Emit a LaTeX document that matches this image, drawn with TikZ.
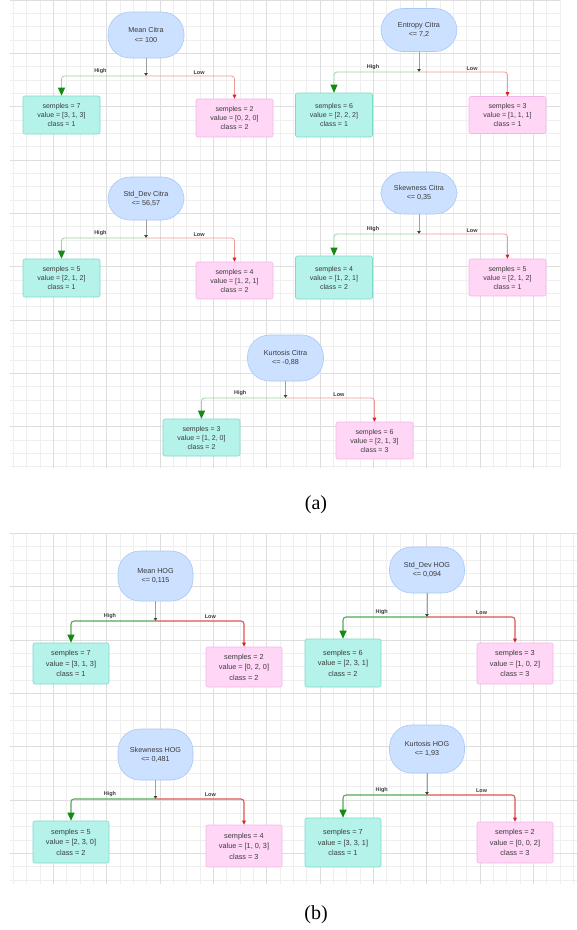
\documentclass[tikz,border=0pt]{standalone}
\usepackage{fontspec}
\setmainfont{Liberation Serif}
\newfontfamily\arialfont{Liberation Sans}
\usetikzlibrary{arrows.meta}

\definecolor{rootfill}{HTML}{CCE0FF}
\definecolor{rootline}{HTML}{A9C9F5}
\definecolor{leaffill}{HTML}{B5F3EA}
\definecolor{leafline}{HTML}{7CDBC9}
\definecolor{pinkfill}{HTML}{FFD6F5}
\definecolor{pinkline}{HTML}{F5B6E6}
\definecolor{textgrey}{HTML}{3A3A3A}
\definecolor{stemgrey}{HTML}{A0A0A0}
\definecolor{gridminor}{HTML}{EFEFEF}
\definecolor{gridmajor}{HTML}{DEDEDE}
\definecolor{greenlight}{HTML}{9AD49A}
\definecolor{redlight}{HTML}{F29A9A}
\definecolor{greendark}{HTML}{55A855}
\definecolor{reddark}{HTML}{DB5555}
\definecolor{greentip}{HTML}{138A13}
\definecolor{redtip}{HTML}{E02020}

\tikzset{
  rootnode/.style={draw=rootline, fill=rootfill, line width=0.6pt, rounded corners=22pt,
    minimum width=76pt, minimum height=46pt, align=center, text=textgrey,
    font=\arialfont\fontsize{7.2}{9.3}\selectfont},
  leafnode/.style={draw=leafline, fill=leaffill, line width=0.6pt, rounded corners=2pt,
    minimum width=77pt, minimum height=38pt, align=center, text=textgrey,
    font=\arialfont\fontsize{7}{9}\selectfont},
  pinknode/.style={leafnode, draw=pinkline, fill=pinkfill},
  bigleaf/.style={font=\arialfont\fontsize{7.3}{10.5}\selectfont},
  stemline/.style={draw=stemgrey, line width=1pt, -{Triangle[width=3.4pt,length=3pt,color=black!75]}},
  highline/.style={draw=greenlight, line width=0.8pt, rounded corners=3pt,
    -{Triangle[width=7pt,length=8pt,color=greentip]}},
  lowline/.style={draw=redlight, line width=0.8pt, rounded corners=3pt,
    -{Triangle[width=3.6pt,length=4pt,color=redtip]}},
  highdark/.style={highline, draw=greendark, line width=1.1pt},
  lowdark/.style={lowline, draw=reddark, line width=1.1pt},
  branchlabel/.style={font=\arialfont\bfseries\fontsize{5.5}{6}\selectfont, text=textgrey,
    above=0.5pt, inner sep=1pt},
  caption/.style={font=\fontsize{20}{24}\selectfont}
}

\begin{document}
\begin{tikzpicture}[x=1pt, y=-1pt]
    \useasboundingbox (0,0) rectangle (577,930);

    % 背景網格
    \draw[gridminor, step=13.33pt] (10,0) grid (560,468);
    \draw[gridmajor, step=53.33pt] (10,0) grid (560,468);
    \draw[gridminor, step=13.33pt] (10,533) grid (577,884);
    \draw[gridmajor, step=53.33pt] (10,533) grid (577,884);

    % (a) 定義節點
    \node[rootnode] (r1) at (146,35) {Mean Citra\\<= 100};
    \node[leafnode] (l1) at (61.5,115) {semples = 7\\value = [3, 1, 3]\\class = 1};
    \node[pinknode] (p1) at (234.5,118) {semples = 2\\value = [0, 2, 0]\\class = 2};
    \coordinate (j1) at (146,76);

    \node[rootnode, minimum height=43pt] (r2) at (419,30) {Entropy Citra\\<= 7,2};
    \node[leafnode, minimum height=44pt] (l2) at (334,115) {semples = 6\\value = [2, 2, 2]\\class = 1};
    \node[pinknode, minimum height=37pt] (p2) at (507.5,115) {semples = 3\\value = [1, 1, 1]\\class = 1};
    \coordinate (j2) at (419,72);

    \node[rootnode, minimum height=43pt] (r3) at (146,198.5) {Std\_Dev Citra\\<= 56,57};
    \node[leafnode] (l3) at (61.5,278) {semples = 5\\value = [2, 1, 2]\\class = 1};
    \node[pinknode, minimum height=37pt] (p3) at (234.5,280.5) {semples = 4\\value = [1, 2, 1]\\class = 2};
    \coordinate (j3) at (146,238);

    \node[rootnode, minimum height=42pt] (r4) at (419,193) {Skewness Citra\\<= 0,35};
    \node[leafnode, minimum height=43pt] (l4) at (334,277.5) {semples = 4\\value = [1, 2, 1]\\class = 2};
    \node[pinknode, minimum height=37pt] (p4) at (507.5,277.5) {semples = 5\\value = [2, 1, 2]\\class = 1};
    \coordinate (j4) at (419,234);

    \node[rootnode] (r5) at (285.5,358) {Kurtosis Citra\\<= -0,88};
    \node[leafnode, minimum height=37pt] (l5) at (201.5,437.5) {semples = 3\\value = [1, 2, 0]\\class = 2};
    \node[pinknode, minimum height=37pt] (p5) at (374.5,440.5) {semples = 6\\value = [2, 1, 3]\\class = 3};
    \coordinate (j5) at (285.5,398);

    % (a) 畫出邊
    \foreach \i in {1,...,5} {
        \draw[stemline] (r\i.south) -- (j\i);
        \draw[highline] (j\i) -| node[branchlabel, pos=0.27] {High} (l\i.north);
        \draw[lowline] (j\i) -| node[branchlabel, pos=0.3] {Low} (p\i.north);
    }

    % (b) 定義節點
    \node[rootnode, minimum width=75pt, minimum height=50pt] (r6) at (155.5,576) {Mean HOG\\<= 0,115};
    \node[leafnode, bigleaf, minimum width=76pt, minimum height=41pt] (l6) at (71,663.5) {semples = 7\\value = [3, 1, 3]\\class = 1};
    \node[pinknode, bigleaf, minimum width=76pt, minimum height=40pt] (p6) at (244,667) {semples = 2\\value = [0, 2, 0]\\class = 2};
    \coordinate (j6) at (155.5,621);

    \node[rootnode, minimum width=75pt] (r7) at (427,570) {Std\_Dev HOG\\<= 0,094};
    \node[leafnode, bigleaf, minimum width=76pt, minimum height=48pt] (l7) at (343,663) {semples = 6\\value = [2, 3, 1]\\class = 2};
    \node[pinknode, bigleaf, minimum width=76pt, minimum height=41pt] (p7) at (515,663.5) {semples = 3\\value = [1, 0, 2]\\class = 3};
    \coordinate (j7) at (427,617);

    \node[rootnode, minimum width=75pt, minimum height=51pt] (r8) at (155.5,754.5) {Skewness HOG\\<= 0,481};
    \node[leafnode, bigleaf, minimum width=76pt, minimum height=42pt] (l8) at (71,842) {semples = 5\\value = [2, 3, 0]\\class = 2};
    \node[pinknode, bigleaf, minimum width=76pt, minimum height=42pt] (p8) at (244,846) {semples = 4\\value = [1, 0, 3]\\class = 3};
    \coordinate (j8) at (155.5,799);

    \node[rootnode, minimum width=75pt, minimum height=48pt] (r9) at (427,749) {Kurtosis HOG\\<= 1,93};
    \node[leafnode, bigleaf, minimum width=76pt, minimum height=49pt] (l9) at (343,842.5) {semples = 7\\value = [3, 3, 1]\\class = 1};
    \node[pinknode, bigleaf, minimum width=76pt, minimum height=41pt] (p9) at (515,842.5) {semples = 2\\value = [0, 0, 2]\\class = 3};
    \coordinate (j9) at (427,795);

    % (b) 畫出邊
    \foreach \i in {6,...,9} {
        \draw[stemline] (r\i.south) -- (j\i);
        \draw[highdark] (j\i) -| node[branchlabel, pos=0.27] {High} (l\i.north);
        \draw[lowdark] (j\i) -| node[branchlabel, pos=0.31] {Low} (p\i.north);
    }

    % 標題
    \node[caption] (capa) at (316,505) {(a)};
    \node[caption] (capb) at (316,915) {(b)};
\end{tikzpicture}
\end{document}
